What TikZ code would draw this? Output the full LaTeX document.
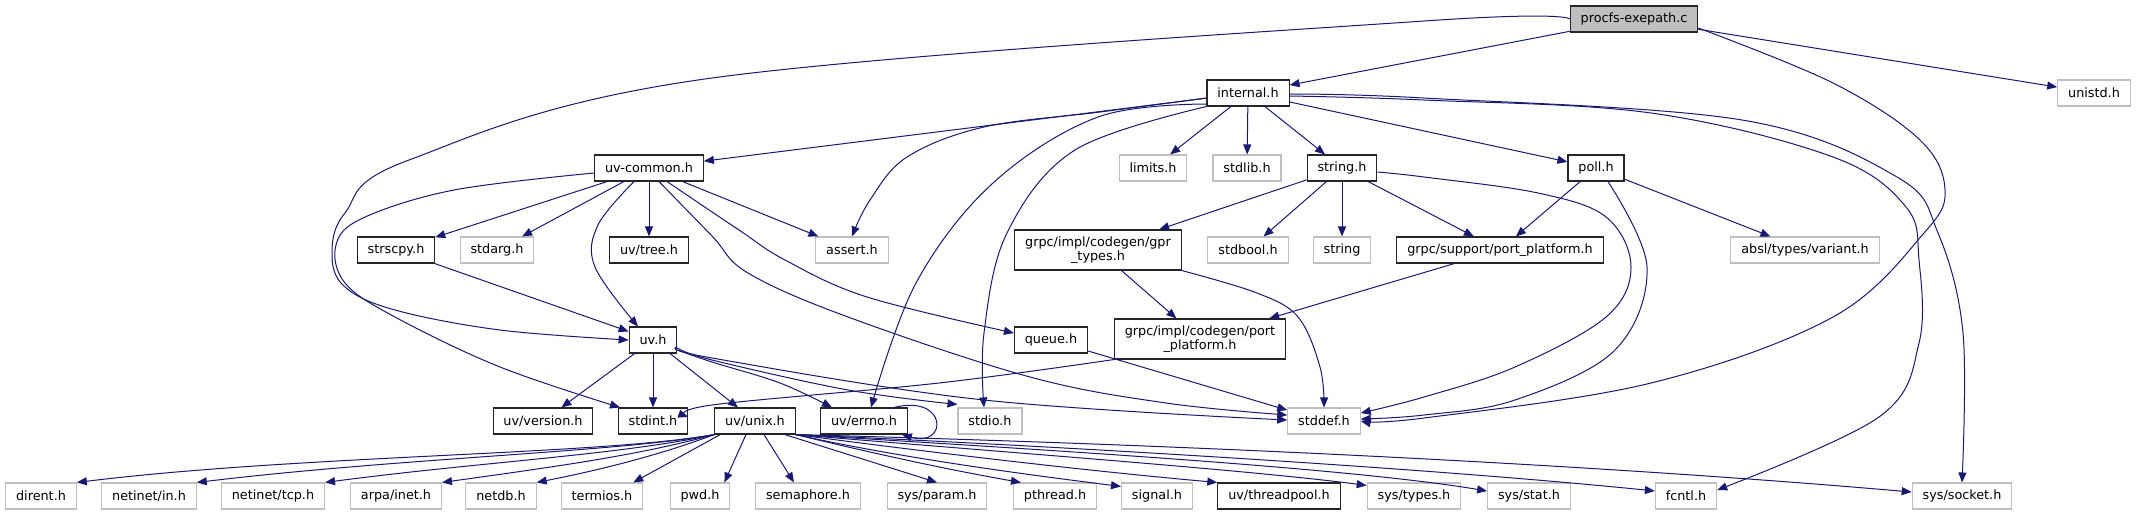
\documentclass[tikz,border=0pt]{standalone}
\usepackage{fontspec}
\setmainfont{DejaVu Sans}
\usetikzlibrary{arrows.meta}
\definecolor{edgeblue}{HTML}{191970}
\definecolor{grey75}{HTML}{BFBFBF}

\begin{document}
\begin{tikzpicture}[x=1pt, y=-1pt, font=\fontsize{12.8}{14.6}\selectfont,
        main/.style = {draw=black!85, line width=1.1pt, inner xsep=10.4pt,
                        inner ysep=0pt, minimum height=26pt, align=center},
        ext/.style = {main, draw=grey75},
        edge/.style = {draw=edgeblue, line width=1pt,
                        -{Triangle[length=10pt, width=8pt]}}]
        \useasboundingbox (0,0) rectangle (2137,515);

        \node[main, fill=grey75] (procfs) at (1634,19) {procfs-exepath.c};

        \node[main] (internal) at (1248,93) {internal.h};
        \node[ext] (unistd) at (2094,93) {unistd.h};

        \node[main] (uvcommon) at (649,168) {uv-common.h};
        \node[ext] (limits) at (1153,168) {limits.h};
        \node[ext] (stdlib) at (1247,168) {stdlib.h};
        \node[main] (string) at (1342,168) {string.h};
        \node[main] (poll) at (1596,168) {poll.h};

        \node[main] (strscpy) at (396,250) {strscpy.h};
        \node[ext] (stdarg) at (497,250) {stdarg.h};
        \node[main] (uvtree) at (649,250) {uv/tree.h};
        \node[ext] (assert) at (852,250) {assert.h};
        \node[main, minimum height=40pt] (gprtypes) at (1098,250) {grpc/impl/codegen/gpr\\\_types.h};
        \node[ext] (stdbool) at (1248,250) {stdbool.h};
        \node[ext] (cxxstring) at (1342,250) {string};
        \node[main] (supportpp) at (1500,250) {grpc/support/port\_platform.h};
        \node[ext] (variant) at (1805,250) {absl/types/variant.h};

        \node[main] (uv) at (653,340) {uv.h};
        \node[main] (queue) at (1051,340) {queue.h};
        \node[main, minimum height=40pt] (codegenpp) at (1200,339) {grpc/impl/codegen/port\\\_platform.h};

        \node[main] (uvversion) at (543,421) {uv/version.h};
        \node[main] (stdint) at (653,421) {stdint.h};
        \node[main] (uvunix) at (755,421) {uv/unix.h};
        \node[main] (uverrno) at (864,421) {uv/errno.h};
        \node[ext] (stdio) at (990,421) {stdio.h};
        \node[ext] (stddef) at (1324,421) {stddef.h};

        \node[ext] (dirent) at (41,496) {dirent.h};
        \node[ext] (netin) at (149,496) {netinet/in.h};
        \node[ext] (nettcp) at (273,496) {netinet/tcp.h};
        \node[ext] (arpa) at (396,496) {arpa/inet.h};
        \node[ext] (netdb) at (501,496) {netdb.h};
        \node[ext] (termios) at (602,496) {termios.h};
        \node[ext] (pwd) at (700,496) {pwd.h};
        \node[ext] (semaphore) at (808,496) {semaphore.h};
        \node[ext] (sysparam) at (937,496) {sys/param.h};
        \node[ext] (pthread) at (1055,496) {pthread.h};
        \node[ext] (signal) at (1157,496) {signal.h};
        \node[main] (threadpool) at (1279,496) {uv/threadpool.h};
        \node[ext] (systypes) at (1414,496) {sys/types.h};
        \node[ext] (sysstat) at (1529,496) {sys/stat.h};
        \node[ext] (fcntl) at (1686,496) {fcntl.h};
        \node[ext] (syssocket) at (1962,496) {sys/socket.h};

        \draw[edge] (procfs) -- (internal);
        \draw[edge] (procfs) -- (unistd);
        \draw[edge] plot[smooth, tension=0.6] coordinates {(procfs.west) (1424,21) (712,78)
                (409,160) (345,213) (332,255) (345,287) (395,310) (500,330) (uv.west)};
        \draw[edge] plot[smooth, tension=0.6] coordinates {([yshift=-9pt]procfs.east) (1833,83)
                (1920,140) (1945,190) (1924,233) (1833,317) (1651,383) (1424,418) (stddef.east)};

        \draw[edge] (internal) -- (uvcommon);
        \draw[edge] plot[smooth, tension=0.6] coordinates {([yshift=-5pt]internal.west) (1100,112)
                (984,127) (907,157) (870,200) (assert.north)};
        \draw[edge] plot[smooth, tension=0.6] coordinates {([yshift=-11pt]internal.west) (1098,117)
                (993,183) (916,283) ([xshift=7pt]uverrno.north)};
        \draw[edge] plot[smooth, tension=0.6] coordinates {(internal.south west) (1075,150)
                (1007,233) (984,333) ([xshift=-6pt]stdio.north)};
        \draw[edge] (internal) -- (limits);
        \draw[edge] (internal) -- (stdlib);
        \draw[edge] (internal) -- (string);
        \draw[edge] (internal) -- (poll);
        \draw[edge] plot[smooth, tension=0.6] coordinates {([yshift=-3pt]internal.east) (1424,100)
                (1651,113) (1833,157) (1906,207) (1919,260) (1919,343) (1879,417)
                ([yshift=6pt]fcntl.east)};
        \draw[edge] plot[smooth, tension=0.6] coordinates {([yshift=-1pt]internal.east) (1424,98)
                (1742,120) (1897,177) (1938,233) (1963,333) (syssocket.north)};

        \draw[edge] (uvcommon) -- (strscpy);
        \draw[edge] (uvcommon) -- (stdarg);
        \draw[edge] (uvcommon) -- (uvtree);
        \draw[edge] (uvcommon) -- (assert);
        \draw[edge] plot[smooth, tension=0.6] coordinates {([xshift=-15pt]uvcommon.south)
                (598,225) (595,267) ([xshift=-15pt]uv.north)};
        \draw[edge] plot[smooth, tension=0.6] coordinates {([xshift=18pt]uvcommon.south)
                (739,230) (785,260) (867,297) ([yshift=7pt]queue.west)};
        \draw[edge] plot[smooth, tension=0.6] coordinates {([xshift=10pt]uvcommon.south)
                (712,236) (748,273) (848,317) (1030,377) (1166,403) ([yshift=6pt]stddef.west)};
        \draw[edge] plot[smooth, tension=0.6] coordinates {([yshift=-5pt]uvcommon.west)
                (454,190) (363,218) (336,245) (345,283) (395,317) (500,367) ([xshift=-33pt]stdint.north)};

        \draw[edge] (strscpy) -- (uv);

        \draw[edge] (string) -- (gprtypes);
        \draw[edge] (string) -- (stdbool);
        \draw[edge] (string) -- (cxxstring);
        \draw[edge] (string) -- (supportpp);
        \draw[edge] plot[smooth, tension=0.6] coordinates {([yshift=-4pt]string.east) (1424,177)
                (1538,193) (1606,217) (1631,267) (1606,317) (1515,367) (1424,397)
                ([yshift=8pt]stddef.east)};

        \draw[edge] (poll) -- (supportpp);
        \draw[edge] (poll) -- (variant);
        \draw[edge] plot[smooth, tension=0.6] coordinates {([xshift=12pt]poll.south) (1647,267)
                (1615,350) (1515,400) (1424,415) ([yshift=2pt]stddef.east)};

        \draw[edge] (gprtypes) -- (codegenpp);
        \draw[edge] plot[smooth, tension=0.6] coordinates {(gprtypes.south east) (1257,293)
                (1298,317) (1320,367) (stddef.north)};
        \draw[edge] (supportpp) -- (codegenpp);
        \draw[edge] plot[smooth, tension=0.6] coordinates {(codegenpp.south west) (939,383)
                (712,405) ([yshift=4pt]stdint.east)};
        \draw[edge] (queue) -- (stddef);

        \draw[edge] (uv) -- (uvversion);
        \draw[edge] (uv) -- (stdint);
        \draw[edge] (uv) -- (uvunix);
        \draw[edge] plot[smooth, tension=0.6] coordinates {([yshift=-10pt]uv.east) (712,362)
                (780,383) ([xshift=-32pt]uverrno.north)};
        \draw[edge] plot[smooth, tension=0.6] coordinates {([yshift=-8pt]uv.east) (712,360)
                (848,390) ([yshift=3pt]stdio.north west)};
        \draw[edge] plot[smooth, tension=0.6] coordinates {([yshift=-7pt]uv.east) (712,358)
                (984,400) ([yshift=1pt]stddef.west)};

        \draw[edge] ([xshift=-14pt]uverrno.north east) .. controls (948,394) and (948,448)
                .. ([xshift=-6pt]uverrno.south east);

        \draw[edge] (uvunix.south west) .. controls (600,455) and (300,455) .. (dirent.north east);
        \draw[edge] (uvunix.south west) .. controls (620,452) and (400,458) .. (netin.north east);
        \draw[edge] (uvunix.south west) .. controls (620,455) and (480,462) .. (nettcp.north east);
        \draw[edge] (uvunix.south west) .. controls (640,455) and (560,466) .. (arpa.north east);
        \draw[edge] (uvunix.south west) .. controls (660,455) and (600,470) .. (netdb.north east);
        \draw[edge] ([xshift=6pt]uvunix.south west) -- ([xshift=-10pt]termios.north east);
        \draw[edge] ([xshift=-9pt]uvunix.south) -- ([xshift=-6pt]pwd.north east);
        \draw[edge] ([xshift=9pt]uvunix.south) -- ([xshift=-14pt]semaphore.north);
        \draw[edge] ([xshift=-11pt]uvunix.south east) -- (sysparam.north);
        \draw[edge] (uvunix.south east) .. controls (880,455) and (950,470) .. ([xshift=8pt]pthread.north west);
        \draw[edge] (uvunix.south east) .. controls (900,458) and (1030,475) .. ([yshift=-4pt]signal.north west);
        \draw[edge] (uvunix.south east) .. controls (950,455) and (1100,472) .. (threadpool.north west);
        \draw[edge] (uvunix.south east) .. controls (1000,452) and (1250,470) .. ([yshift=-3pt]systypes.north west);
        \draw[edge] (uvunix.south east) .. controls (1050,450) and (1350,468) .. ([yshift=5pt]sysstat.west);
        \draw[edge] (uvunix.south east) .. controls (1100,448) and (1450,470) .. ([yshift=5pt]fcntl.west);
        \draw[edge] (uvunix.south east) .. controls (1200,445) and (1600,465) .. ([yshift=4pt]syssocket.west);
    \end{tikzpicture}
\end{document}
